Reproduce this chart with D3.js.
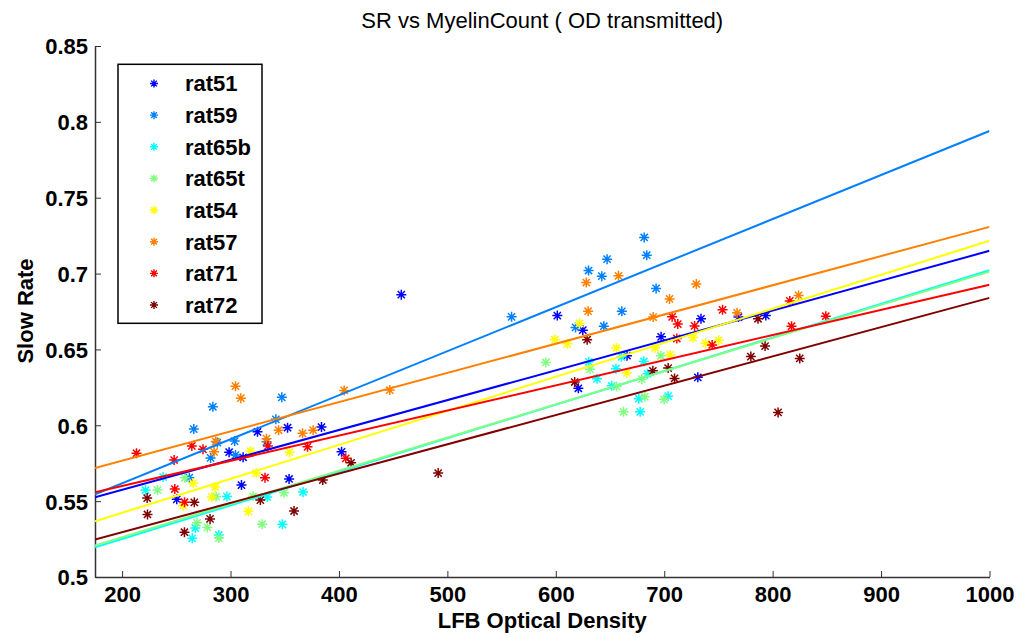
<!DOCTYPE html>
<html>
<head>
<meta charset="utf-8">
<script src="https://cdn.jsdelivr.net/npm/d3@7"></script>
<style>
  html, body { margin: 0; padding: 0; background: #fff; }
  svg { display: block; }
  text { font-family: "Liberation Sans", Arial, Helvetica, sans-serif; }
</style>
</head>
<body>
<svg id="chart" width="1020" height="638"></svg>
<script>
// ---------- data ----------
const seriesNames = ["rat51", "rat59", "rat65b", "rat65t", "rat54", "rat57", "rat71", "rat72"];
const seriesColors = ["#0000ff", "#0080ff", "#00ffff", "#80ff80", "#ffff00", "#ff8000", "#ff0000", "#800000"];

const xTicks = [200, 300, 400, 500, 600, 700, 800, 900, 1000];
const yTicks = [0.5, 0.55, 0.6, 0.65, 0.7, 0.75, 0.8, 0.85];
const xDomain = [175, 1000];
const yDomain = [0.5, 0.85];

// scatter points [LFB OD, slow rate]
const rat51 = [[298.7,0.5823],[311.6,0.5789],[324.9,0.5957],[250.4,0.5512],[310.1,0.5606],[352.6,0.5984],
  [383.9,0.5988],[354.0,0.5646],[402.4,0.5825],[457.5,0.6861],[601.4,0.6723],[624.9,0.6627],[620.8,0.6244],
  [665.7,0.6459],[697.1,0.6583],[733.9,0.6702],[731.0,0.6316],[768.5,0.6713],[793.7,0.6723]];
const rat59 = [[283.7,0.6122],[266.1,0.5975],[287.8,0.5886],[281.6,0.5785],[303.8,0.5896],[304.6,0.5804],
  [333.2,0.5891],[262.0,0.5655],[347.3,0.6184],[341.8,0.6039],[559.2,0.6715],[660.9,0.6751],[618.2,0.6645],
  [644.3,0.6653],[681.5,0.7238],[683.9,0.7121],[647.3,0.7095],[630.2,0.7020],[642.4,0.6983],[692.5,0.6902]];
const rat65b = [[237.8,0.5659],[221.6,0.5573],[296.7,0.5530],[333.9,0.5527],[267.5,0.5323],[264.7,0.5255],
  [289.2,0.5277],[366.9,0.5560],[347.8,0.5347],[630.4,0.6418],[655.5,0.6373],[638.0,0.6306],[651.5,0.6260],
  [660.6,0.6451],[681.2,0.6421],[684.6,0.6339],[676.6,0.6175],[703.6,0.6192],[677.8,0.6089]];
const rat65t = [[257.8,0.5654],[232.6,0.5573],[286.7,0.5529],[320.8,0.5532],[278.6,0.5327],[289.2,0.5257],
  [329.1,0.5348],[269.1,0.5357],[349.4,0.5555],[590.8,0.6414],[631.6,0.6370],[656.1,0.6255],[662.5,0.6089],
  [696.9,0.6458],[679.3,0.6304],[682.1,0.6188],[699.9,0.6171]];
const rat54 = [[318.4,0.5829],[265.5,0.5619],[256.3,0.5470],[285.8,0.5593],[282.7,0.5528],[323.6,0.5685],
  [316.4,0.5433],[354.4,0.5823],[621.9,0.6671],[599.1,0.6564],[610.6,0.6537],[655.8,0.6509],[665.5,0.6345],
  [691.6,0.6511],[705.4,0.6464],[726.6,0.6578],[738.2,0.6540],[750.2,0.6560]];
const rat57 = [[304.6,0.6258],[309.5,0.6179],[286.4,0.5893],[284.8,0.5825],[333.2,0.5912],[404.8,0.6230],
  [446.9,0.6232],[344.3,0.5968],[366.4,0.5947],[376.2,0.5968],[628.1,0.6941],[629.8,0.6752],[657.8,0.6985],
  [729.6,0.6931],[704.9,0.6833],[689.8,0.6713],[767.2,0.6741],[823.9,0.6856]];
const rat71 = [[213.3,0.5816],[248.0,0.5771],[264.3,0.5864],[274.6,0.5842],[334.4,0.5863],[331.8,0.5655],
  [257.6,0.5493],[248.6,0.5580],[371.0,0.5858],[406.3,0.5782],[707.3,0.6715],[712.5,0.6667],[728.0,0.6655],
  [711.6,0.6572],[744.2,0.6530],[753.8,0.6761],[815.8,0.6820],[817.4,0.6653],[849.0,0.6719]];
const rat72 = [[223.1,0.5520],[223.4,0.5412],[266.6,0.5492],[327.5,0.5507],[281.1,0.5383],[257.5,0.5295],
  [411.2,0.5753],[385.1,0.5639],[358.6,0.5435],[491.5,0.5685],[628.9,0.6564],[617.4,0.6285],[689.5,0.6359],
  [703.6,0.6377],[709.5,0.6309],[786.5,0.6702],[793.0,0.6522],[779.9,0.6453],[825.0,0.6441],[805.0,0.6085]];
const seriesPoints = [rat51, rat59, rat65b, rat65t, rat54, rat57, rat71, rat72];

// linear fit lines: value at x=175 and at x=1000
const fitStart = [0.5526, 0.5545, 0.5195, 0.5208, 0.5367, 0.5719, 0.5559, 0.5247];
const fitEnd   = [0.7150, 0.7940, 0.7022, 0.7013, 0.7216, 0.7308, 0.6926, 0.6840];

const titleText = "SR vs MyelinCount ( OD transmitted)";
const xLabelText = "LFB Optical Density";
const yLabelText = "Slow Rate";

// ---------- layout ----------
const svg = d3.select("#chart");
const plotL = 95, plotR = 989.5, plotT = 46, plotB = 577;

const x = d3.scaleLinear().domain(xDomain).range([plotL, plotR]);
const y = d3.scaleLinear().domain(yDomain).range([plotB, plotT]);

function starPath(r) {
  const d = r * 0.72;
  return `M${-r},0H${r}M0,${-r}V${r}M${-d},${-d}L${d},${d}M${-d},${d}L${d},${-d}`;
}

// axes
const axisColor = "#333333";
const xAxis = svg.append("g").attr("transform", `translate(0,${plotB})`)
  .call(d3.axisBottom(x).tickValues(xTicks).tickSizeInner(-6).tickSizeOuter(0).tickFormat(d3.format("d")));
const yAxis = svg.append("g").attr("transform", `translate(${plotL},0)`)
  .call(d3.axisLeft(y).tickValues(yTicks).tickSizeInner(-6).tickSizeOuter(0).tickFormat(d => String(+d.toFixed(2))));

[xAxis, yAxis].forEach(g => {
  g.select(".domain").attr("stroke", axisColor).attr("stroke-width", 1.5);
  g.selectAll(".tick line").attr("stroke", axisColor).attr("stroke-width", 1);
  g.selectAll(".tick text").attr("fill", "#000")
    .style("font-family", '"Liberation Sans", Arial, sans-serif')
    .style("font-size", "22px").style("font-weight", "bold");
});
xAxis.selectAll(".tick text").attr("dy", null).attr("y", 25);
yAxis.selectAll(".tick text").attr("x", -7).attr("dy", "0.36em");

// plot clip
svg.append("clipPath").attr("id", "plotclip").append("rect")
  .attr("x", plotL).attr("y", plotT).attr("width", plotR - plotL).attr("height", plotB - plotT);

const plot = svg.append("g").attr("clip-path", "url(#plotclip)");

// scatter
seriesPoints.forEach((pts, i) => {
  plot.append("g").selectAll("path").data(pts).join("path")
    .attr("transform", d => `translate(${x(d[0])},${y(d[1])})`)
    .attr("d", starPath(5))
    .attr("fill", "none")
    .attr("stroke", seriesColors[i])
    .attr("stroke-width", 1.5);
});

// fit lines
seriesNames.forEach((name, i) => {
  const pts = [[xDomain[0], fitStart[i]], [xDomain[1], fitEnd[i]]];
  plot.append("path")
    .attr("d", d3.line().x(d => x(d[0])).y(d => y(d[1]))(pts))
    .attr("fill", "none")
    .attr("stroke", seriesColors[i])
    .attr("stroke-width", 2);
});

// title and labels
svg.append("text").attr("x", (plotL + plotR) / 2).attr("y", 28)
  .attr("text-anchor", "middle").style("font-size", "22px").text(titleText);
svg.append("text").attr("x", (plotL + plotR) / 2).attr("y", 628)
  .attr("text-anchor", "middle").style("font-size", "22px").style("font-weight", "bold").text(xLabelText);
svg.append("text").attr("transform", "translate(33,311) rotate(-90)")
  .attr("text-anchor", "middle").style("font-size", "22px").style("font-weight", "bold").text(yLabelText);

// legend
const legend = svg.append("g");
legend.append("rect").attr("x", 118).attr("y", 64.3).attr("width", 144).attr("height", 259)
  .attr("fill", "#fff").attr("stroke", "#000").attr("stroke-width", 1.5);
const rowY = d3.scaleLinear().domain([0, seriesNames.length - 1]).range([83.5, 305]);
seriesNames.forEach((name, i) => {
  legend.append("path").attr("transform", `translate(154,${rowY(i)})`)
    .attr("d", starPath(4)).attr("fill", "none")
    .attr("stroke", seriesColors[i]).attr("stroke-width", 1.4);
  legend.append("text").attr("x", 185).attr("y", rowY(i)).attr("dy", "0.36em")
    .style("font-size", "22px").style("font-weight", "bold").text(name);
});
</script>
</body>
</html>
